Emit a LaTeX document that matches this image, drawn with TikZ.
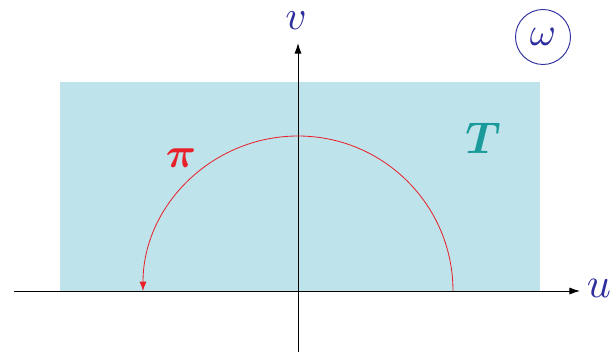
\documentclass[tikz,border=0pt]{standalone}
\usepackage{amsmath,amssymb,bm}
\usepackage{tikz}
\usetikzlibrary{arrows.meta}
\usepackage{xcolor}
\definecolor{planeblue}{HTML}{BFE3EA}
\definecolor{axisblue}{HTML}{2E2E9E}
\definecolor{pathred}{HTML}{E8202A}
\definecolor{regionteal}{HTML}{1A9A9A}
\newcommand{\biglbl}[2]{\scalebox{#1}{$#2$}}

\begin{document}
\begin{tikzpicture}[
    x=0.03cm, y=0.03cm,
    axis/.style={-{Latex[length=9pt,width=6pt]}, line width=0.8pt},
    lbl/.style={text=axisblue, inner sep=0pt},
]
\useasboundingbox (0,0) rectangle (614,354);

\fill[planeblue] (60,63) rectangle (540,272);

\coordinate (O) at (298,63);
\coordinate (xs) at (14,63);
\coordinate (xe) at (580,63);
\coordinate (ys) at (298,2);
\coordinate (ye) at (298,311);
\coordinate (arcstart) at (453,63);

\draw[axis] (xs) -- (xe);
\draw[axis] (ys) -- (ye);

\draw[pathred, line width=0.7pt, -{Latex[length=8pt,width=6pt]}] (arcstart) arc[start angle=0, end angle=180, radius=155];

\node[lbl] (vlab) at (296,333) {\biglbl{3.5}{v}};
\node[lbl] (ulab) at (599,66) {\biglbl{3.6}{u}};
\node[text=pathred, inner sep=0pt] (pilab) at (181,196) {\biglbl{3.6}{\bm{\pi}}};
\node[text=regionteal, inner sep=0pt] (tlab) at (483,216) {\biglbl{3.8}{\bm{T}}};
\node[lbl, draw=axisblue, line width=0.8pt, circle, minimum size=1.65cm] (wlab) at (543,317) {\biglbl{3.4}{\omega}};

\end{tikzpicture}
\end{document}
